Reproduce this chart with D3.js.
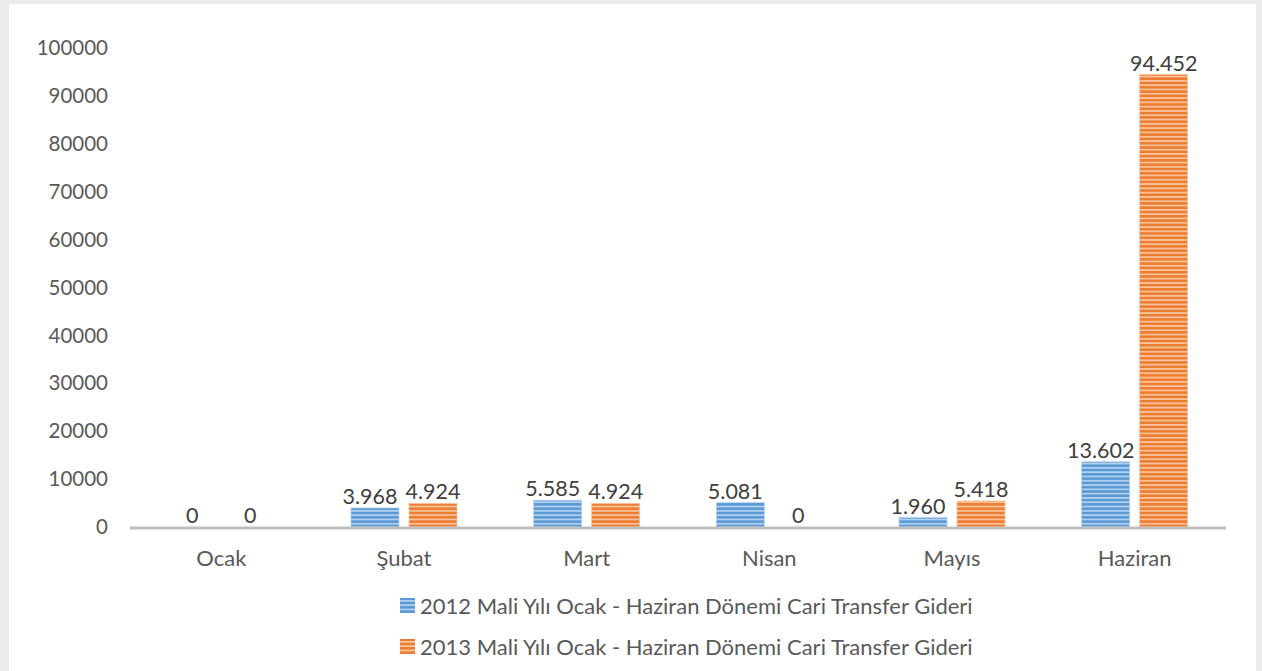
<!DOCTYPE html>
<html>
<head>
<meta charset="utf-8">
<script src="https://cdn.jsdelivr.net/npm/d3@7"></script>
<style>
	body { margin: 0; background: #ececec; }
	#chart { position: absolute; left: 9px; top: 4px; width: 1247px; height: 667px; background: #fff; }
	text { font-family: Lato, "Open Sans", sans-serif; }
</style>
</head>
<body>
<div id="chart"></div>
<script>
// chart data
var months = ["Ocak", "Şubat", "Mart", "Nisan", "Mayıs", "Haziran"];
var values2012 = [0, 3968, 5585, 5081, 1960, 13602];
var values2013 = [0, 4924, 4924, 0, 5418, 94452];
var seriesNames = [
	"2012 Mali Yılı Ocak - Haziran Dönemi Cari Transfer Gideri",
	"2013 Mali Yılı Ocak - Haziran Dönemi Cari Transfer Gideri"
];
var yTicks = [0, 10000, 20000, 30000, 40000, 50000, 60000, 70000, 80000, 90000, 100000];

drawChart();

function fmt(v) {
	return d3.format(",")(v).replace(/,/g, ".");
}

function drawChart() {
	var width = 1262, height = 671,
		left = 130, right = 1226, top = 48, bottom = 527,
		barWidth = 48, barGap = 10;

	var svg = d3.select("body")
		.append("svg")
		.attr("width", width)
		.attr("height", height)
		.style("position", "absolute")
		.style("left", 0)
		.style("top", 0);

	var colors = [
		{dark: "#5b9bd5", light: "#b4d0ee", id: "stripeBlue"},
		{dark: "#ed7d31", light: "#f8c4a0", id: "stripeOrange"}
	];

	var defs = svg.append("defs");
	colors.forEach(function(c) {
		var p = defs.append("pattern")
			.attr("id", c.id)
			.attr("patternUnits", "userSpaceOnUse")
			.attr("width", 8)
			.attr("height", 4.3);
		p.append("rect").attr("width", 8).attr("height", 4.3).attr("fill", c.light);
		p.append("rect").attr("width", 8).attr("height", 2.6).attr("fill", c.dark);
	});

	var x = d3.scaleBand().domain(months).range([left, right]);
	var y = d3.scaleLinear().domain([0, 100000]).range([bottom, top]);

	// y tick labels
	svg.selectAll("text.ytick")
		.data(yTicks)
		.enter().append("text")
		.attr("class", "ytick")
		.attr("x", 108)
		.attr("y", function(d) { return y(d); })
		.attr("dy", "0.35em")
		.attr("text-anchor", "end")
		.attr("font-size", "20.5px")
		.attr("fill", "#595959")
		.text(function(d) { return d; });

	var series = [values2012, values2013];
	series.forEach(function(vals, s) {
		var off = s === 0 ? -barGap / 2 - barWidth : barGap / 2;
		var g = svg.append("g");
		g.selectAll("rect")
			.data(vals)
			.enter().append("rect")
			.attr("x", function(d, i) { return x(months[i]) + x.bandwidth() / 2 + off; })
			.attr("y", function(d) { return y(d); })
			.attr("width", barWidth)
			.attr("height", function(d) { return bottom - y(d); })
			.attr("fill", "url(#" + colors[s].id + ")")
			.attr("stroke", colors[s].light)
			.attr("stroke-width", 0.8);

		// blue labels nudge left a little, like the original
		g.selectAll("text")
			.data(vals)
			.enter().append("text")
			.attr("x", function(d, i) {
				var cx = x(months[i]) + x.bandwidth() / 2 + off + barWidth / 2;
				return s === 0 && d > 0 ? cx - 5 : cx;
			})
			.attr("y", function(d) { return y(d) - 4; })
			.attr("text-anchor", "middle")
			.attr("font-size", "21.5px")
			.attr("fill", "#404040")
			.text(function(d) { return fmt(d); });
	});

	// x axis line
	svg.append("line")
		.attr("x1", left)
		.attr("x2", right)
		.attr("y1", bottom + 1)
		.attr("y2", bottom + 1)
		.attr("stroke", "#bfbfbf")
		.attr("stroke-width", 3);

	svg.selectAll("text.xlabel")
		.data(months)
		.enter().append("text")
		.attr("class", "xlabel")
		.attr("x", function(d) { return x(d) + x.bandwidth() / 2; })
		.attr("y", 566)
		.attr("text-anchor", "middle")
		.attr("font-size", "22px")
		.attr("fill", "#595959")
		.text(function(d) { return d; });

	// legend
	var legend = svg.selectAll("g.legend")
		.data(seriesNames)
		.enter().append("g")
		.attr("class", "legend")
		.attr("transform", function(d, i) { return "translate(400," + (606 + i * 41) + ")"; });

	legend.append("rect")
		.attr("x", 0)
		.attr("y", -8)
		.attr("width", 15)
		.attr("height", 15)
		.attr("fill", function(d, i) { return "url(#" + colors[i].id + ")"; });

	legend.append("text")
		.attr("x", 20)
		.attr("y", 0)
		.attr("dy", "0.35em")
		.attr("font-size", "22px")
		.attr("fill", "#595959")
		.text(function(d) { return d; });
}
</script>
</body>
</html>
